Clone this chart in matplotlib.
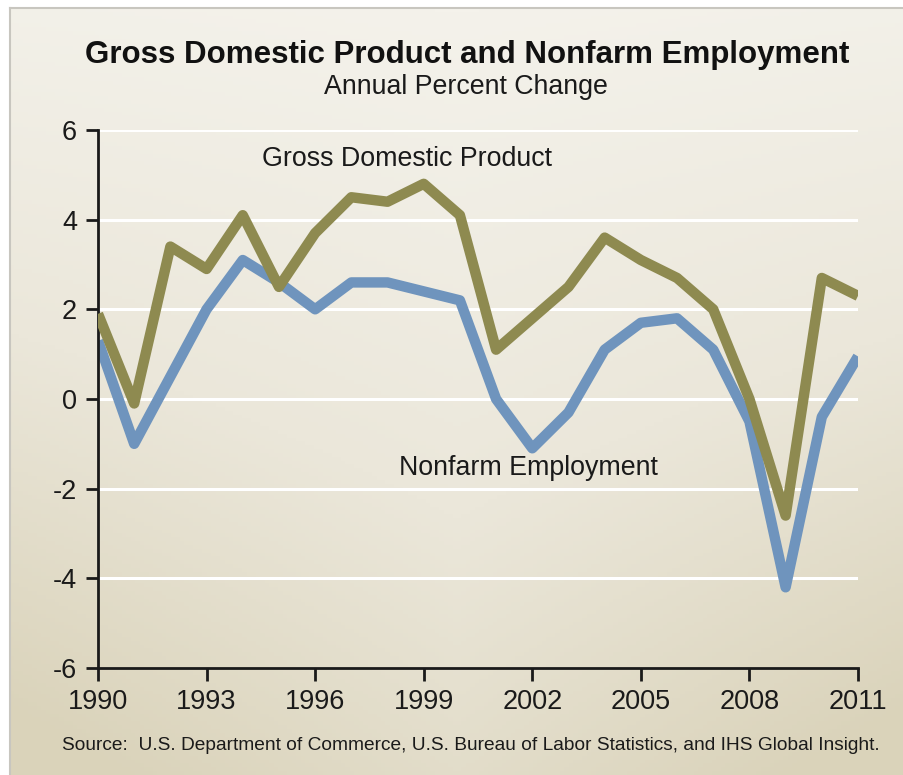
import numpy as np
import matplotlib
matplotlib.use("Agg")
import matplotlib.pyplot as plt
from matplotlib.colors import LinearSegmentedColormap

years = list(range(1990, 2012))
gdp = [1.9, -0.1, 3.4, 2.9, 4.1, 2.5, 3.7, 4.5, 4.4, 4.8, 4.1, 1.1,
       1.8, 2.5, 3.6, 3.1, 2.7, 2.0, 0.0, -2.6, 2.7, 2.3]
emp = [1.3, -1.0, 0.5, 2.0, 3.1, 2.6, 2.0, 2.6, 2.6, 2.4, 2.2, 0.0,
       -1.1, -0.3, 1.1, 1.7, 1.8, 1.1, -0.5, -4.2, -0.4, 0.95]
xticks = [1990, 1993, 1996, 1999, 2002, 2005, 2008, 2011]
yticks = [-6, -4, -2, 0, 2, 4, 6]

title = "Gross Domestic Product and Nonfarm Employment"
subtitle = "Annual Percent Change"
gdp_label = "Gross Domestic Product"
emp_label = "Nonfarm Employment"
source = "Source:  U.S. Department of Commerce, U.S. Bureau of Labor Statistics, and IHS Global Insight."

plt.rcParams['font.family'] = ['Liberation Sans', 'DejaVu Sans']

W, H = 904, 775
fig = plt.figure(figsize=(W / 100, H / 100), dpi=100)
fig.patch.set_facecolor('white')

# background panel with gradient
bg = fig.add_axes([10 / W, 0, 1 - 10 / W, 1 - 8 / H])
bg.set_axis_off()
ny, nx = 200, 200
yy, xx = np.mgrid[0:1:ny * 1j, 0:1:nx * 1j]
t = 0.75 * yy + 0.25 * np.abs(xx - 0.5) * 2 * (0.3 + yy)
t = np.clip(t, 0, 1)
cmap = LinearSegmentedColormap.from_list('bgc', ['#f4f2eb', '#ebe7da', '#dad3ba'])
bg.imshow(t, cmap=cmap, aspect='auto', extent=[0, 1, 1, 0], vmin=0, vmax=1)
bg.set_xlim(0, 1)
bg.set_ylim(1, 0)
bg.plot([0, 0], [0, 1], color='#c8c6bf', lw=1.5, transform=bg.transAxes, clip_on=False)
bg.plot([0, 1], [1, 1], color='#c8c6bf', lw=1.5, transform=bg.transAxes, clip_on=False)

ax = fig.add_axes([98 / W, (H - 668) / H, (858 - 98) / W, (668 - 130) / H])
ax.patch.set_alpha(0)
ax.set_xlim(1990, 2011)
ax.set_ylim(-6, 6)
for v in yticks:
    if v != -6:
        ax.axhline(v, color='white', lw=2.2, zorder=1)

ax.plot(years, gdp, color='#8e8a50', lw=7.5, solid_joinstyle='round',
        solid_capstyle='butt', zorder=3)
ax.plot(years, emp, color='#6f94bd', lw=7.5, solid_joinstyle='round',
        solid_capstyle='butt', zorder=2)

for s in ['top', 'right']:
    ax.spines[s].set_visible(False)
for s in ['left', 'bottom']:
    ax.spines[s].set_linewidth(2)
    ax.spines[s].set_color('#1a1a1a')
ax.set_xticks(xticks)
ax.set_yticks(yticks)
ax.set_yticklabels([str(v) for v in yticks])
ax.tick_params(axis='both', length=9, width=2, color='#1a1a1a', labelsize=19.5,
               labelcolor='#1a1a1a')
ax.tick_params(axis='y', pad=6)
ax.tick_params(axis='x', pad=6)

ax.text(1998.55, 5.35, gdp_label, fontsize=19.3, ha='center', va='center', color='#1a1a1a')
ax.text(2001.9, -1.55, emp_label, fontsize=19.3, ha='center', va='center', color='#1a1a1a')

fig.text(467.5 / W, 1 - 55 / H, title, fontsize=22.5, fontweight='bold', ha='center',
         va='center', color='#111111')
fig.text(466 / W, 1 - 87 / H, subtitle, fontsize=19.3, ha='center', va='center', color='#1a1a1a')
fig.text(471 / W, 1 - 745 / H, source, fontsize=13.8, ha='center', va='center', color='#1a1a1a')

fig.savefig('out.png', dpi=100)
